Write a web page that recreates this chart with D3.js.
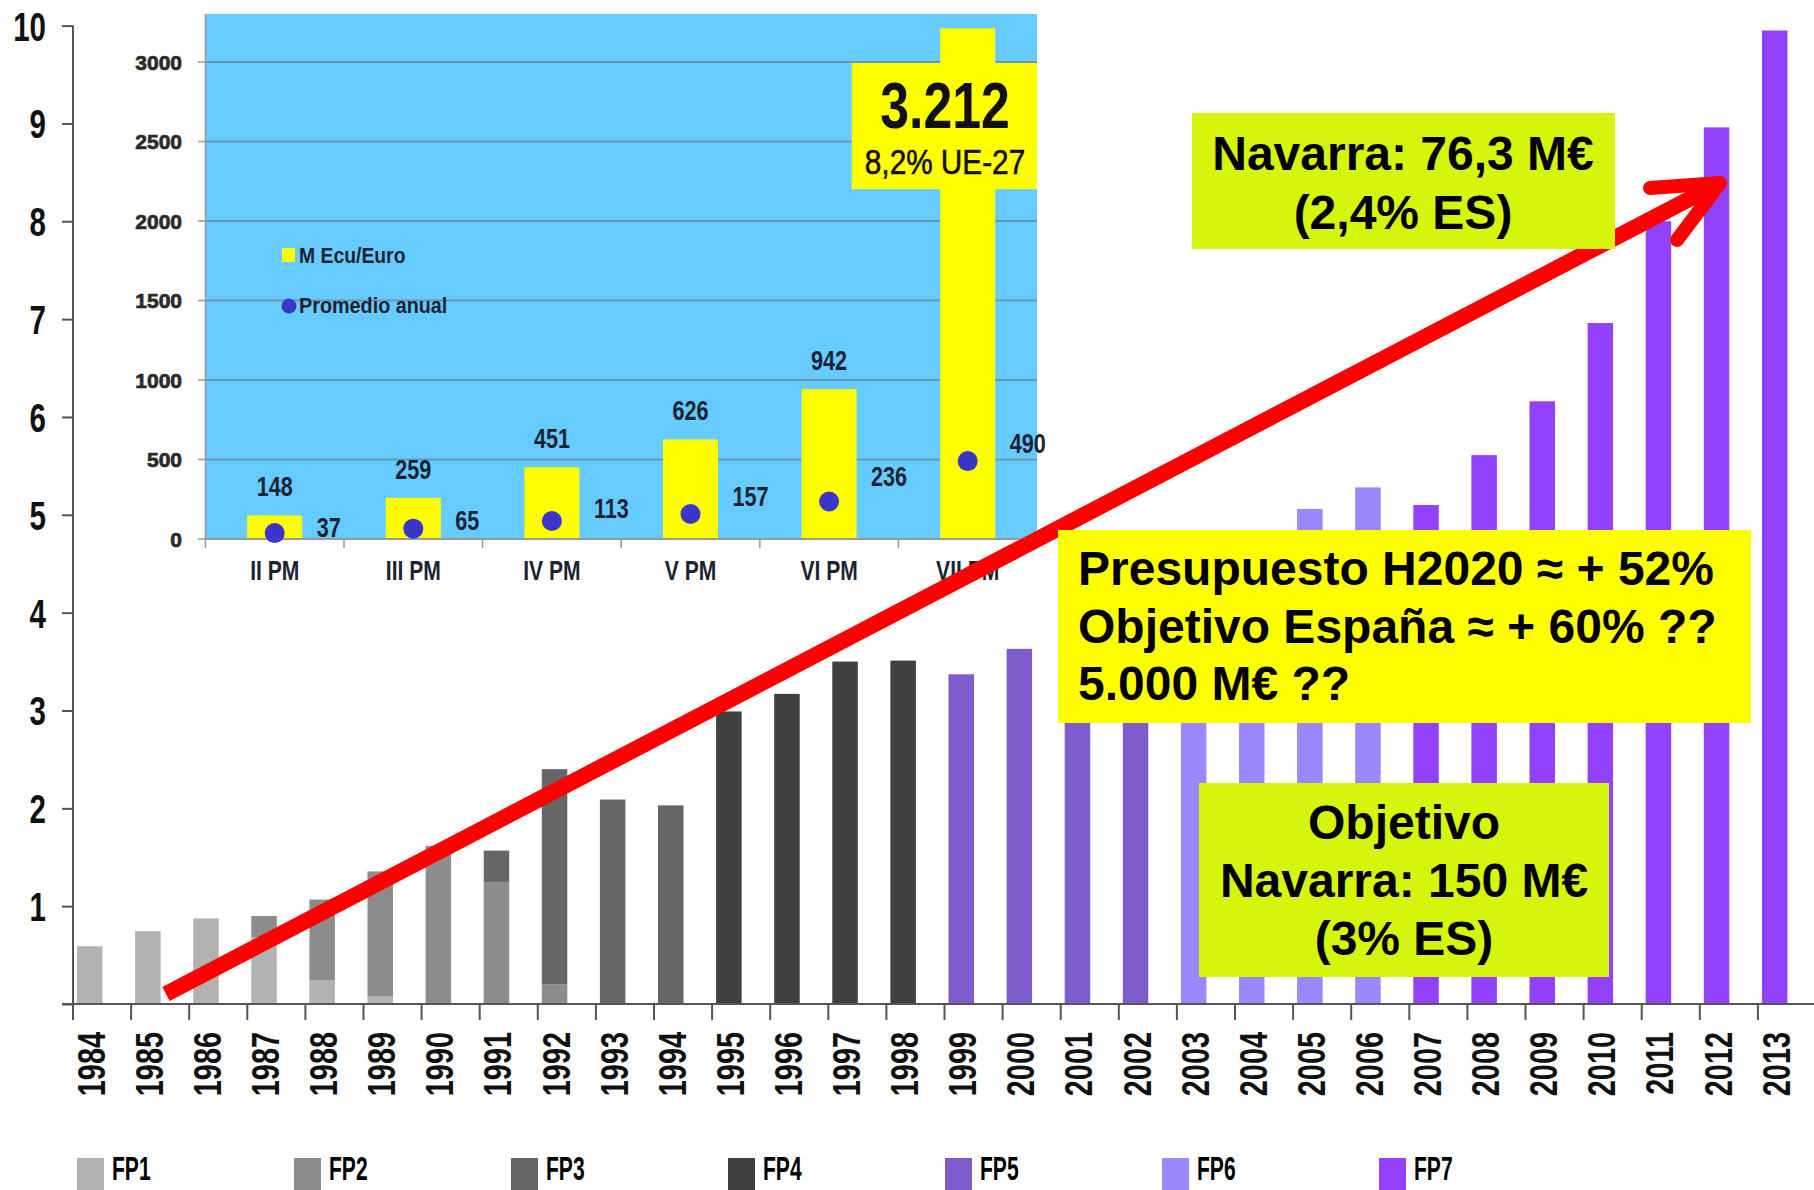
<!DOCTYPE html>
<html>
<head>
<meta charset="utf-8">
<script src="https://cdn.jsdelivr.net/npm/d3@7"></script>
<style>
    body { margin: 0; background: #fff; }
    svg { display: block; }
</style>
</head>
<body>
<div id="chart"></div>
<script>
// main chart: EU framework programme budget per year (G€), stacked by programme
const years = ["1984", "1985", "1986", "1987", "1988", "1989", "1990", "1991", "1992", "1993",
    "1994", "1995", "1996", "1997", "1998", "1999", "2000", "2001", "2002", "2003",
    "2004", "2005", "2006", "2007", "2008", "2009", "2010", "2011", "2012", "2013"];
const fpNames = ["FP1", "FP2", "FP3", "FP4", "FP5", "FP6", "FP7"];
const fp1 = [0.59, 0.745, 0.875, 0.68, 0.245, 0.075, 0, 0, 0, 0, 0, 0, 0, 0, 0, 0, 0, 0, 0, 0, 0, 0, 0, 0, 0, 0, 0, 0, 0, 0];
const fp2 = [0, 0, 0, 0.22, 0.823, 1.28, 1.616, 1.248, 0.2, 0, 0, 0, 0, 0, 0, 0, 0, 0, 0, 0, 0, 0, 0, 0, 0, 0, 0, 0, 0, 0];
const fp3 = [0, 0, 0, 0, 0, 0, 0, 0.32, 2.2, 2.09, 2.03, 0, 0, 0, 0, 0, 0, 0, 0, 0, 0, 0, 0, 0, 0, 0, 0, 0, 0, 0];
const fp4 = [0, 0, 0, 0, 0, 0, 0, 0, 0, 0, 0, 2.99, 3.17, 3.5, 3.51, 0, 0, 0, 0, 0, 0, 0, 0, 0, 0, 0, 0, 0, 0, 0];
const fp5 = [0, 0, 0, 0, 0, 0, 0, 0, 0, 0, 0, 0, 0, 0, 0, 3.37, 3.63, 3.9, 4.05, 0, 0, 0, 0, 0, 0, 0, 0, 0, 0, 0];
const fp6 = [0, 0, 0, 0, 0, 0, 0, 0, 0, 0, 0, 0, 0, 0, 0, 0, 0, 0, 0, 4.35, 4.65, 5.06, 5.28, 0, 0, 0, 0, 0, 0, 0];
const fp7 = [0, 0, 0, 0, 0, 0, 0, 0, 0, 0, 0, 0, 0, 0, 0, 0, 0, 0, 0, 0, 0, 0, 0, 5.1, 5.61, 6.16, 6.96, 8.0, 8.96, 9.95];
const fpColors = ["#b2b2b2", "#8c8c8c", "#666666", "#404040", "#7e5ccc", "#9b88ff", "#9340ff"];
const yTicks = [1, 2, 3, 4, 5, 6, 7, 8, 9, 10];

// inset chart
const pms = ["II PM", "III PM", "IV PM", "V PM", "VI PM", "VII PM"];
const totals = [148, 259, 451, 626, 942, 3212];
const annual = [37, 65, 113, 157, 236, 490];
const insetTicks = [0, 500, 1000, 1500, 2000, 2500, 3000];

const W = 1814, H = 1190;
const font = "'Liberation Sans', Arial, sans-serif";

var svg = d3.select("#chart").append("svg")
    .attr("width", W)
    .attr("height", H)
    .style("font-family", font);

let step = 58.1;
var x = d3.scaleBand()
    .domain(years)
    .range([73, 73 + years.length * step]);

var y = d3.scaleLinear()
    .domain([0, 10])
    .range([1004, 25.6]);

let barOff = 4, barW = 25.5;

let rows = years.map(function (yr, i) {
    let r = {year: yr};
    [fp1, fp2, fp3, fp4, fp5, fp6, fp7].forEach(function (s, j) {
        r[fpNames[j]] = s[i];
    });
    return r;
});
let stacked = d3.stack().keys(fpNames)(rows);

svg.append("g").selectAll("g")
    .data(stacked)
    .enter().append("g")
    .attr("fill", function (d, i) {
        return fpColors[i];
    })
    .selectAll("rect")
    .data(function (d) {
        return d.filter(function (s) { return s[1] - s[0] > 0; });
    })
    .enter().append("rect")
    .attr("x", function (d) {
        return x(d.data.year) + barOff;
    })
    .attr("width", barW)
    .attr("y", function (d) {
        return y(d[1]);
    })
    .attr("height", function (d) {
        return y(d[0]) - y(d[1]);
    });

// y axis
var yAxis = svg.append("g")
    .attr("transform", "translate(73,0)")
    .call(d3.axisLeft(y).tickValues([0].concat(yTicks)).tickSize(11).tickFormat(""));
yAxis.select(".domain").remove();
yAxis.selectAll("line").attr("stroke", "#555").attr("stroke-width", 2);

svg.append("line")
    .attr("x1", 73).attr("x2", 73)
    .attr("y1", y(10)).attr("y2", 1016)
    .attr("stroke", "#555").attr("stroke-width", 2);

svg.selectAll(".ylab")
    .data(yTicks)
    .enter().append("text")
    .attr("class", "ylab")
    .attr("transform", function (d) {
        return "translate(46," + (y(d) + 15) + ") scale(0.72,1)";
    })
    .attr("text-anchor", "end")
    .attr("font-size", 41)
    .attr("font-weight", "bold")
    .attr("fill", "#111")
    .text(function (d) { return d; });

// x axis
svg.append("line")
    .attr("x1", 62).attr("x2", W)
    .attr("y1", y(0)).attr("y2", y(0))
    .attr("stroke", "#555").attr("stroke-width", 2);

svg.selectAll(".xtick")
    .data(years)
    .enter().append("line")
    .attr("x1", function (d) { return x(d); })
    .attr("x2", function (d) { return x(d); })
    .attr("y1", y(0)).attr("y2", y(0) + 16)
    .attr("stroke", "#555").attr("stroke-width", 2);

svg.selectAll(".xlab")
    .data(years)
    .enter().append("text")
    .attr("class", "xlab")
    .attr("transform", function (d) {
        return "translate(" + (x(d) + barOff + barW / 2 + 15) + ",1032) rotate(-90) scale(0.76,1)";
    })
    .attr("text-anchor", "end")
    .attr("font-size", 38)
    .attr("font-weight", "bold")
    .attr("fill", "#111")
    .text(function (d) { return d; });

// legend (kept just inside the bottom edge)
var legend = svg.selectAll(".legend")
    .data(fpNames)
    .enter().append("g")
    .attr("class", "legend")
    .attr("transform", function (d, i) {
        return "translate(" + (77 + i * 217) + ",1158)";
    });

legend.append("rect")
    .attr("width", 27)
    .attr("height", 32)
    .attr("fill", function (d, i) { return fpColors[i]; });

legend.append("text")
    .attr("transform", "translate(35,22) scale(0.62,1)")
    .attr("font-size", 34)
    .attr("font-weight", "bold")
    .attr("fill", "#000")
    .text(function (d) { return d; });

// ---------- inset ----------
var xi = d3.scaleBand()
    .domain(pms)
    .range([205.4, 1037]);
var yi = d3.scaleLinear()
    .domain([0, 3000])
    .range([539, 62]);
let ibw = 55;
let inkText = "#1b2333";

var inset = svg.append("g");

inset.append("rect")
    .attr("x", 205.4).attr("y", 14)
    .attr("width", 1037 - 205.4).attr("height", 539 - 14)
    .attr("fill", "#66ccff");

inset.selectAll(".grid")
    .data(insetTicks.slice(1))
    .enter().append("line")
    .attr("x1", 205.4).attr("x2", 1037)
    .attr("y1", function (d) { return yi(d); })
    .attr("y2", function (d) { return yi(d); })
    .attr("stroke", "#6b95b5").attr("stroke-width", 2);

inset.selectAll(".itick")
    .data(insetTicks)
    .enter().append("line")
    .attr("x1", 198).attr("x2", 205.4)
    .attr("y1", function (d) { return yi(d); })
    .attr("y2", function (d) { return yi(d); })
    .attr("stroke", "#999").attr("stroke-width", 1.5);

inset.append("line")
    .attr("x1", 205.4).attr("x2", 205.4)
    .attr("y1", 14).attr("y2", 539)
    .attr("stroke", "#999").attr("stroke-width", 1.5);

inset.selectAll(".ilab")
    .data(insetTicks)
    .enter().append("text")
    .attr("x", 182)
    .attr("y", function (d) { return yi(d) + 7.5; })
    .attr("text-anchor", "end")
    .attr("font-size", 21)
    .attr("font-weight", "bold")
    .attr("fill", "#2a2a2a")
    .attr("stroke", "#2a2a2a")
    .attr("stroke-width", 0.7)
    .text(function (d) { return d; });

inset.selectAll(".ibar")
    .data(totals)
    .enter().append("rect")
    .attr("x", function (d, i) { return xi(pms[i]) + xi.bandwidth() / 2 - ibw / 2; })
    .attr("width", ibw)
    .attr("y", function (d) { return yi(d); })
    .attr("height", function (d) { return yi(0) - yi(d); })
    .attr("fill", "#ffff00");

inset.append("line")
    .attr("x1", 205.4).attr("x2", 1037)
    .attr("y1", yi(0)).attr("y2", yi(0))
    .attr("stroke", "#999").attr("stroke-width", 2);

inset.selectAll(".btick")
    .data(pms.concat(["end"]))
    .enter().append("line")
    .attr("x1", function (d, i) { return 205.4 + i * xi.bandwidth(); })
    .attr("x2", function (d, i) { return 205.4 + i * xi.bandwidth(); })
    .attr("y1", yi(0)).attr("y2", yi(0) + 9)
    .attr("stroke", "#999").attr("stroke-width", 1.5);

inset.selectAll(".dot")
    .data(annual)
    .enter().append("circle")
    .attr("cx", function (d, i) { return xi(pms[i]) + xi.bandwidth() / 2; })
    .attr("cy", function (d) { return yi(d); })
    .attr("r", 10)
    .attr("fill", "#3a36c9");

// values above the bars (the last one goes in the callout)
inset.selectAll(".tval")
    .data(totals.slice(0, 5))
    .enter().append("text")
    .attr("transform", function (d, i) {
        return "translate(" + (xi(pms[i]) + xi.bandwidth() / 2) + "," + (yi(d) - 19) + ") scale(0.8,1)";
    })
    .attr("text-anchor", "middle")
    .attr("font-size", 27)
    .attr("font-weight", "bold")
    .attr("fill", inkText)
    .text(function (d) { return d; });

inset.selectAll(".aval")
    .data(annual)
    .enter().append("text")
    .attr("transform", function (d, i) {
        let dy = d > 300 ? -8 : 8 - d * 0.1;
        return "translate(" + (xi(pms[i]) + xi.bandwidth() / 2 + 42) + "," + (yi(d) + dy) + ") scale(0.8,1)";
    })
    .attr("font-size", 27)
    .attr("font-weight", "bold")
    .attr("fill", inkText)
    .text(function (d) { return d; });

inset.selectAll(".cat")
    .data(pms)
    .enter().append("text")
    .attr("transform", function (d) {
        return "translate(" + (xi(d) + xi.bandwidth() / 2) + ",580) scale(0.78,1)";
    })
    .attr("text-anchor", "middle")
    .attr("font-size", 27)
    .attr("font-weight", "bold")
    .attr("fill", inkText)
    .text(function (d) { return d; });

// inset legend
inset.append("rect")
    .attr("x", 282).attr("y", 248)
    .attr("width", 13).attr("height", 14)
    .attr("fill", "#ffff00");
inset.append("text")
    .attr("transform", "translate(299,263) scale(0.88,1)")
    .attr("font-size", 22)
    .attr("font-weight", "bold")
    .attr("fill", inkText)
    .text("M Ecu/Euro");
inset.append("circle")
    .attr("cx", 289).attr("cy", 306)
    .attr("r", 7.5)
    .attr("fill", "#3a36c9");
inset.append("text")
    .attr("transform", "translate(299,313) scale(0.9,1)")
    .attr("font-size", 22)
    .attr("font-weight", "bold")
    .attr("fill", inkText)
    .text("Promedio anual");

// callout on the last inset bar
let lastX = xi(pms[5]) + xi.bandwidth() / 2;
inset.append("rect")
    .attr("x", lastX - 116).attr("y", yi(3000) + 1)
    .attr("width", 1037 - (lastX - 116))
    .attr("height", yi(2200) - yi(3000) - 1)
    .attr("fill", "#ffff00");
inset.append("text")
    .attr("transform", "translate(945,128) scale(0.81,1)")
    .attr("text-anchor", "middle")
    .attr("font-size", 64)
    .attr("font-weight", "bold")
    .attr("fill", "#111")
    .text("3.212");
inset.append("text")
    .attr("transform", "translate(945,174) scale(0.85,1)")
    .attr("text-anchor", "middle")
    .attr("font-size", 35)
    .attr("fill", "#111")
    .attr("stroke", "#111")
    .attr("stroke-width", 0.6)
    .text("8,2% UE-27");

// ---------- red arrow ----------
let a0 = [166, 994], a1 = [1720, 183];
svg.append("line")
    .attr("x1", a0[0]).attr("y1", a0[1])
    .attr("x2", a1[0]).attr("y2", a1[1])
    .attr("stroke", "#ff0000")
    .attr("stroke-width", 16)
    .attr("stroke-linecap", "butt");
svg.append("path")
    .attr("d", d3.line()([[1650, 188], a1, [1677, 240]]))
    .attr("fill", "none")
    .attr("stroke", "#ff0000")
    .attr("stroke-width", 14)
    .attr("stroke-linecap", "round")
    .attr("stroke-linejoin", "round");

// ---------- annotation boxes ----------
function box(x0, y0, x1, y1, fill) {
    svg.append("rect")
        .attr("x", x0).attr("y", y0)
        .attr("width", x1 - x0).attr("height", y1 - y0)
        .attr("fill", fill);
}
function lines(list, xPos, y0, gap, anchor) {
    list.forEach(function (t, i) {
        svg.append("text")
            .attr("x", xPos)
            .attr("y", y0 + i * gap)
            .attr("text-anchor", anchor)
            .attr("font-size", 48)
            .attr("font-weight", "bold")
            .attr("fill", "#000")
            .text(t);
    });
}

box(1192, 113, 1615, 249, "#d5f50c");
lines(["Navarra: 76,3 M€", "(2,4% ES)"], 1403, 170, 59, "middle");

box(1058, 530, 1751, 723, "#ffff00");
lines(["Presupuesto H2020 ≈ + 52%", "Objetivo España ≈ + 60% ??", "5.000 M€ ??"], 1078, 585, 57.5, "start");

box(1199, 783, 1609, 977, "#d5f50c");
lines(["Objetivo", "Navarra: 150 M€", "(3% ES)"], 1404, 839, 58, "middle");
</script>
</body>
</html>
